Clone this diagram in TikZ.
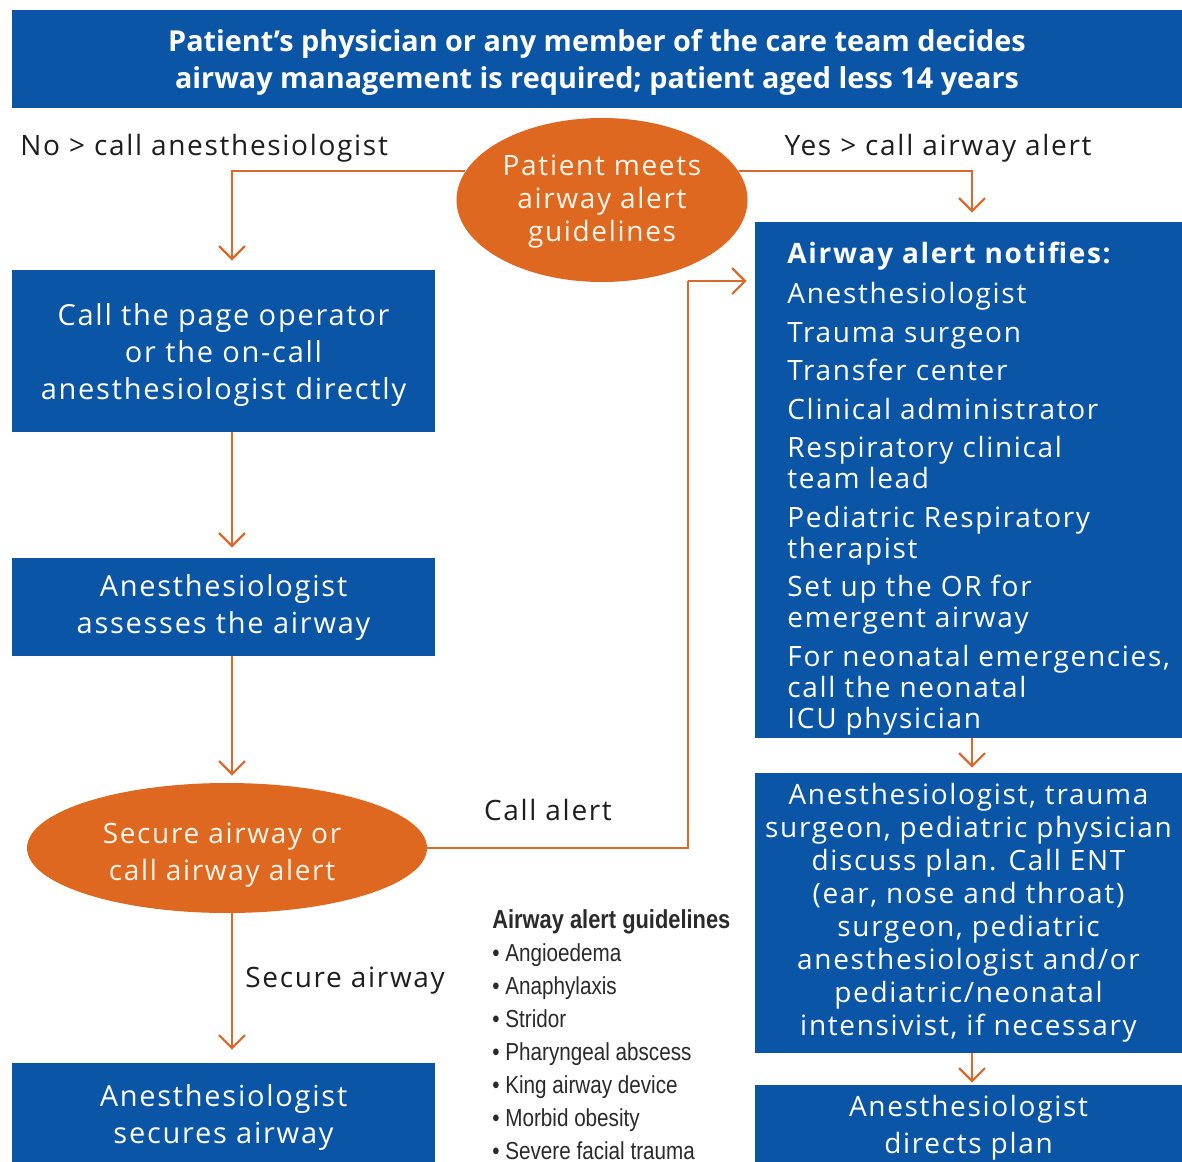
\documentclass[tikz,border=0pt]{standalone}
\usepackage{fontspec}
\setmainfont[LetterSpace=6]{Open Sans}
\newfontfamily\titlefont{Open Sans}
\newfontfamily\condfont[FakeStretch=0.84]{Liberation Sans}
\usetikzlibrary{shapes.geometric,arrows.meta}
\definecolor{nblue}{HTML}{0B55A6}
\definecolor{norange}{HTML}{DF6820}
\definecolor{nline}{HTML}{D96A2C}
\definecolor{ntext}{HTML}{1E1E1E}
\definecolor{ngray}{HTML}{2A2A2A}
\begin{document}
\begin{tikzpicture}[x=0.5pt,y=-0.5pt,
  bluebox/.style={rectangle, fill=nblue, text=white, inner sep=0pt, align=center,
    font=\fontsize{14}{18.5}\selectfont},
  leftbox/.style={bluebox, font=\fontsize{14.5}{18.5}\selectfont},
  oval/.style={ellipse, fill=norange, inner sep=0pt},
  ovaltext/.style={text=white!92!orange, inner sep=0pt, align=center,
    font=\fontsize{14}{16.5}\selectfont},
  lbl/.style={text=ntext, inner sep=0pt, font=\fontsize{14}{17}\selectfont},
  arr/.style={draw=nline, line width=1.1pt, -{Straight Barb[length=6.5pt,width=13pt,line width=1.1pt]}},
  conn/.style={draw=nline, line width=1.1pt}
]
\useasboundingbox (0,0) rectangle (1182,1161);
\fill[white] (0,0) rectangle (1182,1161);

% title
\node[bluebox, minimum width=585pt, minimum height=49pt] (title) at (597,59) {};
\node[bluebox, font=\titlefont\bfseries\fontsize{14.4}{18.5}\selectfont] (titletxt) at (597,62)
  {Patient’s physician or any member of the care team decides\\airway management is required; patient aged less 14 years};

% labels
\node[lbl, anchor=west] (nolbl) at (20,148) {No > call anesthesiologist};
\node[lbl, anchor=east] (yeslbl) at (1092,148) {Yes > call airway alert};

% decision 1
\node[oval, minimum width=145.5pt, minimum height=82pt] (e1) at (602,200) {};
\node[ovaltext] (e1txt) at (602,202) {Patient meets\\airway alert\\guidelines};

% left column
\node[leftbox, minimum width=211.5pt, minimum height=81pt] (A) at (223.5,351) {};
\node[leftbox] (Atxt) at (223.5,355) {Call the page operator\\or the on-call\\anesthesiologist directly};
\node[leftbox, minimum width=211.5pt, minimum height=49pt] (B) at (223.5,607)
  {Anesthesiologist\\assesses the airway};
\node[oval, minimum width=200pt, minimum height=65pt] (e2) at (227,848) {};
\node[ovaltext, font=\fontsize{14}{18.5}\selectfont] (e2txt) at (222,855) {Secure airway or\\call airway alert};
\node[leftbox, minimum width=211.5pt, minimum height=54pt] (C) at (223.5,1117)
  {Anesthesiologist\\secures airway};

% right column
\node[bluebox, minimum width=213.5pt, minimum height=258pt] (D) at (968.5,480) {};
\node[bluebox, anchor=north west, align=left, font=\fontsize{14}{15.5}\selectfont] (Dtxt) at (787,242)
  {\textbf{Airway alert notifies:}\\[4.5pt]
   Anesthesiologist\\[3.75pt]
   Trauma surgeon\\[3.75pt]
   Transfer center\\[3.75pt]
   Clinical administrator\\[3.75pt]
   Respiratory clinical\\team lead\\[3.75pt]
   Pediatric Respiratory\\therapist\\[3.75pt]
   Set up the OR for\\emergent airway\\[3.75pt]
   For neonatal emergencies,\\call the neonatal\\ICU physician};
\node[bluebox, minimum width=213.5pt, minimum height=140pt, font=\fontsize{14}{16.5}\selectfont] (E) at (968.5,913)
  {Anesthesiologist, trauma\\surgeon, pediatric physician\\discuss plan. Call ENT\\(ear, nose and throat)\\surgeon, pediatric\\anesthesiologist and/or\\pediatric/neonatal\\intensivist, if necessary};
\node[bluebox, minimum width=213.5pt, minimum height=43pt] (F) at (968.5,1128)
  {Anesthesiologist\\directs plan};

% guidelines list
\node[text=ngray, anchor=north west, align=left, inner sep=0pt, font=\condfont\fontsize{12.3}{16.5}\selectfont] (guide) at (492,909)
  {{\bfseries\fontsize{13}{16.5}\selectfont Airway alert guidelines}\\
   • Angioedema\\
   • Anaphylaxis\\
   • Stridor\\
   • Pharyngeal abscess\\
   • King airway device\\
   • Morbid obesity\\
   • Severe facial trauma};

% edge labels
\node[lbl] (calllbl) at (548,810) {Call alert};
\node[lbl, anchor=west] (seclbl) at (245,981) {Secure airway};

% connectors
\coordinate (turn) at (688,281);
\draw[arr, shorten >=4.5pt] (e1.168) -| ([xshift=4.25pt]A.north);
\draw[arr, shorten >=4.5pt] (e1.12) -| ([xshift=1.75pt]D.north);
\draw[arr, shorten >=5pt] ([xshift=4.25pt]A.south) -- ([xshift=4.25pt]B.north);
\draw[arr, shorten >=3.5pt] ([xshift=4.25pt]B.south) -- ([xshift=4.25pt]B.south |- e2.north);
\draw[arr, shorten >=6.5pt] ([xshift=4.25pt]C.north |- e2.south) -- ([xshift=4.25pt]C.north);
\draw[conn] (e2.east) -| (turn);
\draw[arr, shorten >=4pt] (turn) -- (turn -| D.west);
\draw[arr, shorten >=2.5pt] ([xshift=1.75pt]D.south) -- ([xshift=1.75pt]E.north);
\draw[arr, shorten >=1pt] ([xshift=1.75pt]E.south) -- ([xshift=1.75pt]F.north);
\end{tikzpicture}
\end{document}
